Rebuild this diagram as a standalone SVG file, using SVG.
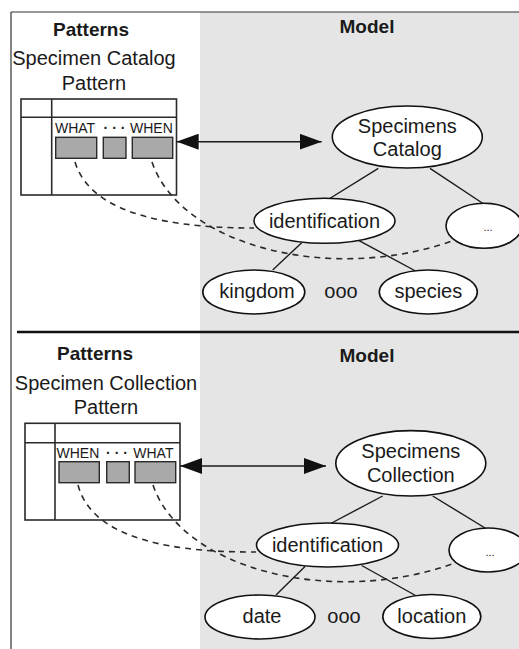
<svg xmlns="http://www.w3.org/2000/svg" width="519" height="649" viewBox="0 0 519 649">
  <defs>
    <marker id="arrowhead" viewBox="0 0 22 16" refX="22" refY="8" markerWidth="22" markerHeight="16" markerUnits="userSpaceOnUse" orient="auto-start-reverse">
      <path d="M0,0 L22,8 L0,16 Z" fill="#111"/>
    </marker>
  </defs>
  <style>
    text { font-family: "Liberation Sans", Arial, sans-serif; fill: #1a1a1a; }
    .title { font-size: 19px; font-weight: bold; text-anchor: middle; }
    .label { font-size: 20px; text-anchor: middle; }
    .slot { font-size: 14px; }
    .dots { font-size: 14px; font-weight: bold; text-anchor: middle; }
    .node { fill: #ffffff; stroke: #111; stroke-width: 1.6; }
    .frame { fill: none; stroke: #2a2a2a; stroke-width: 1.6; }
    .cell { fill: #a9a9a9; stroke: #2a2a2a; stroke-width: 1.4; }
    .edge { stroke: #1a1a1a; stroke-width: 1.4; fill: none; }
    .map { stroke: #1a1a1a; stroke-width: 1.6; fill: none; marker-start: url(#arrowhead); marker-end: url(#arrowhead); }
    .link { stroke: #2a2a2a; stroke-width: 1.6; fill: none; stroke-dasharray: 6 5; }
  </style>

  <!-- panel backgrounds and borders -->
  <rect x="0" y="0" width="519" height="649" fill="#ffffff"/>
  <rect x="200" y="12" width="319" height="637" fill="#e5e5e6"/>
  <line x1="11" y1="12" x2="519" y2="12" stroke="#333" stroke-width="1.2"/>
  <line x1="11" y1="12" x2="11" y2="649" stroke="#333" stroke-width="1.2"/>
  <line x1="17" y1="332" x2="519" y2="332" stroke="#111" stroke-width="2.6"/>

  <!-- headings -->
  <text class="title" x="91" y="36">Patterns</text>
  <text class="title" x="367" y="33">Model</text>
  <text class="label" x="94" y="65">Specimen Catalog</text>
  <text class="label" x="94" y="90">Pattern</text>

  <text class="title" x="95" y="360">Patterns</text>
  <text class="title" x="367" y="362">Model</text>
  <text class="label" x="106" y="390">Specimen Collection</text>
  <text class="label" x="106" y="414">Pattern</text>

  <!-- upper pattern table -->
  <g id="catalog-pattern">
    <rect class="frame" x="21" y="99" width="155.5" height="96"/>
    <line class="frame" x1="51.7" y1="99" x2="51.7" y2="195"/>
    <line class="frame" x1="21" y1="117.3" x2="176.5" y2="117.3"/>
    <text class="slot" x="55" y="133.3">WHAT</text>
    <text class="dots" x="114.5" y="133.3">· · ·</text>
    <text class="slot" x="130" y="133.3">WHEN</text>
    <rect class="cell" x="55.7" y="137.3" width="41" height="21"/>
    <rect class="cell" x="103.3" y="137.3" width="22.7" height="21"/>
    <rect class="cell" x="132.3" y="137.3" width="40.4" height="21"/>
  </g>

  <!-- lower pattern table -->
  <g id="collection-pattern">
    <rect class="frame" x="25" y="423.3" width="155" height="96.7"/>
    <line class="frame" x1="55" y1="423.3" x2="55" y2="520"/>
    <line class="frame" x1="25" y1="442.7" x2="180" y2="442.7"/>
    <text class="slot" x="56.5" y="458.3">WHEN</text>
    <text class="dots" x="117" y="458.3">· · ·</text>
    <text class="slot" x="133.3" y="458.3">WHAT</text>
    <rect class="cell" x="59" y="461.7" width="40.3" height="21"/>
    <rect class="cell" x="106.7" y="461.7" width="22.6" height="21"/>
    <rect class="cell" x="135" y="461.7" width="40.7" height="21"/>
  </g>

  <!-- connectors -->
  <g id="connectors">
    <line class="map" x1="176.7" y1="141.7" x2="321.7" y2="141.7"/>
    <line class="map" x1="180" y1="466" x2="326" y2="466"/>

    <line class="edge" x1="378.3" y1="168.3" x2="327.3" y2="200"/>
    <line class="edge" x1="430" y1="168.3" x2="483" y2="203.5"/>
    <line class="edge" x1="301.7" y1="242.7" x2="272.7" y2="270"/>
    <line class="edge" x1="356.7" y1="239.3" x2="418.3" y2="272.5"/>

    <line class="edge" x1="382.7" y1="496" x2="330.7" y2="523.5"/>
    <line class="edge" x1="432.7" y1="496" x2="486.7" y2="529"/>
    <line class="edge" x1="305" y1="566.5" x2="276" y2="595"/>
    <line class="edge" x1="361.7" y1="565.5" x2="420" y2="598"/>

    <path class="link" d="M75,162 Q95,228 254,228"/>
    <path class="link" d="M152,162 C180,245 330,285 455,240"/>
    <path class="link" d="M78,485 Q96,553 256,552"/>
    <path class="link" d="M153,485 C181,568 330,608 455,563"/>
  </g>

  <!-- upper model tree -->
  <g id="specimens-catalog">
    <ellipse class="node" cx="407.3" cy="137" rx="75" ry="31"/>
    <text class="label" x="407.3" y="132.7">Specimens</text>
    <text class="label" x="407.3" y="156">Catalog</text>
  </g>
  <g id="catalog-identification">
    <ellipse class="node" cx="324.5" cy="220.8" rx="70.5" ry="22.5"/>
    <text class="label" x="324.5" y="228.3">identification</text>
  </g>
  <g id="catalog-more">
    <ellipse class="node" cx="484" cy="225.8" rx="38" ry="22.5"/>
    <text x="488" y="231" font-size="11" text-anchor="middle">...</text>
  </g>
  <g id="kingdom">
    <ellipse class="node" cx="253.8" cy="292" rx="51" ry="22"/>
    <text class="label" x="257" y="298.3">kingdom</text>
  </g>
  <text class="label" x="341" y="298.3">ooo</text>
  <g id="species">
    <ellipse class="node" cx="428.3" cy="292" rx="49" ry="22"/>
    <text class="label" x="428.3" y="298.3">species</text>
  </g>

  <!-- lower model tree -->
  <g id="specimens-collection">
    <ellipse class="node" cx="410.8" cy="463.3" rx="75" ry="32.7"/>
    <text class="label" x="410.8" y="458.3">Specimens</text>
    <text class="label" x="410.8" y="481.7">Collection</text>
  </g>
  <g id="collection-identification">
    <ellipse class="node" cx="327.5" cy="545" rx="71" ry="22"/>
    <text class="label" x="327.5" y="551.7">identification</text>
  </g>
  <g id="collection-more">
    <ellipse class="node" cx="488" cy="550" rx="39" ry="22"/>
    <text x="490" y="556" font-size="11" text-anchor="middle">...</text>
  </g>
  <g id="date">
    <ellipse class="node" cx="260" cy="617" rx="55" ry="22"/>
    <text class="label" x="262" y="622.7">date</text>
  </g>
  <text class="label" x="344" y="622.7">ooo</text>
  <g id="location">
    <ellipse class="node" cx="431.8" cy="616.5" rx="49" ry="22"/>
    <text class="label" x="431.8" y="622.7">location</text>
  </g>
</svg>
